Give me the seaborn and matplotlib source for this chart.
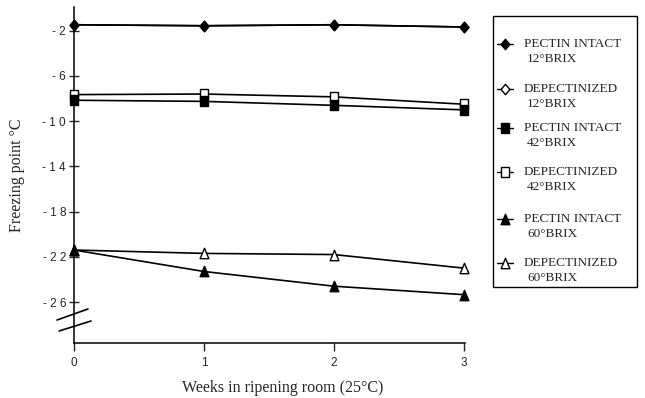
import numpy as np
import pandas as pd
import matplotlib
matplotlib.use("Agg")
import matplotlib.pyplot as plt
from matplotlib.lines import Line2D
from matplotlib.patches import Rectangle
from matplotlib.path import Path
import seaborn as sns

# Freezing point (°C) of the samples during storage in the ripening room
weeks = [0, 1, 2, 3]
pectin_intact_12 = [-1.47, -1.56, -1.47, -1.67]
depectinized_12 = [-1.47, -1.56, -1.47, -1.67]
pectin_intact_42 = [-8.15, -8.25, -8.6, -9.0]
depectinized_42 = [-7.65, -7.6, -7.85, -8.5]
pectin_intact_60 = [-21.4, -23.3, -24.6, -25.35]
depectinized_60 = [-21.4, -21.7, -21.8, -23.0]

series_names = [
    ("PECTIN INTACT", "12°BRIX"),
    ("DEPECTINIZED", "12°BRIX"),
    ("PECTIN INTACT", "42°BRIX"),
    ("DEPECTINIZED", "42°BRIX"),
    ("PECTIN INTACT", "60°BRIX"),
    ("DEPECTINIZED", "60°BRIX"),
]
series_values = [pectin_intact_12, depectinized_12, pectin_intact_42,
                 depectinized_42, pectin_intact_60, depectinized_60]

y_ticks = [-2, -6, -10, -14, -18, -22, -26]
y_tick_labels = ["- 2", "- 6", "- 1 0", "- 1 4", "- 1 8", "- 2 2", "- 2 6"]
x_tick_labels = ["0", "1", "2", "3"]

# slightly tall marker shapes
diamond = Path([(0, 0.5), (0.42, 0), (0, -0.5), (-0.42, 0), (0, 0.5)],
               [Path.MOVETO, Path.LINETO, Path.LINETO, Path.LINETO, Path.CLOSEPOLY])
rect = Path([(-0.36, -0.5), (0.36, -0.5), (0.36, 0.5), (-0.36, 0.5), (-0.36, -0.5)],
            [Path.MOVETO, Path.LINETO, Path.LINETO, Path.LINETO, Path.CLOSEPOLY])
tri = Path([(-0.42, -0.5), (0.42, -0.5), (0, 0.5), (-0.42, -0.5)],
           [Path.MOVETO, Path.LINETO, Path.LINETO, Path.CLOSEPOLY])

# filled markers are drawn on top of the open ones
styles = [
    dict(marker=diamond, mfc="black", ms=7.5, z=4),
    dict(marker=diamond, mfc="white", ms=7.5, z=3),
    dict(marker=rect, mfc="black", ms=7.5, z=4),
    dict(marker=rect, mfc="white", ms=7.5, z=3),
    dict(marker=tri, mfc="black", ms=7.5, z=4),
    dict(marker=tri, mfc="white", ms=7.5, z=3),
]

sns.set_style("ticks")
plt.rcParams["font.family"] = ["Liberation Sans", "DejaVu Sans"]

W, H = 645, 398
fig = plt.figure(figsize=(W / 100, H / 100), dpi=100)
ax_l, ax_r, ax_t, ax_b = 74, 465, 7, 342.7
ax = fig.add_axes([ax_l / W, 1 - ax_b / H, (ax_r - ax_l) / W, (ax_b - ax_t) / H])

for (n1, n2), vals, st in zip(series_names, series_values, styles):
    df = pd.DataFrame({"week": weeks, "fp": vals})
    sns.lineplot(data=df, x="week", y="fp", ax=ax, color="black", lw=1.2,
                 marker=st["marker"], markersize=st["ms"],
                 markerfacecolor=st["mfc"], markeredgecolor="black",
                 markeredgewidth=1.0, zorder=st["z"], clip_on=False,
                 label=f"{n1} {n2}", legend=False)

ax.set_xlim(0, 3.01)
ax.set_ylim(-29.6, 0.1)
ax.set_xticks(weeks)
ax.set_xticklabels(x_tick_labels, fontsize=8.5)
ax.set_yticks(y_ticks)
ax.set_yticklabels(y_tick_labels, fontsize=8.5)
ax.tick_params(axis="y", direction="inout", length=7.5, width=1.0, pad=2)
ax.tick_params(axis="x", direction="out", length=6, width=1.0, pad=4)
for s in ["top", "right"]:
    ax.spines[s].set_visible(False)
for s in ["left", "bottom"]:
    ax.spines[s].set_linewidth(1.1)
    ax.spines[s].set_color("black")

serif = ["Liberation Serif", "DejaVu Serif"]
ax.set_xlabel("Weeks in ripening room (25°C)", fontsize=11.5, family=serif)
ax.set_ylabel("Freezing point °C", fontsize=11.5, family=serif)
ax.xaxis.set_label_coords(0.535, -0.11)
ax.yaxis.set_label_coords(-0.125, 0.5)

# axis break marks on the y axis
for (x0, y0), (x1, y1) in [((-0.0435, 0.0676), (0.0358, 0.1004)),
                           ((-0.038, 0.0349), (0.0435, 0.0646))]:
    ax.plot([x0, x1], [y0, y1], transform=ax.transAxes, color="black",
            lw=1.2, clip_on=False)

# legend box with two-line labels, marker aligned with the first line
box_x0, box_x1, box_y0, box_y1 = 493, 637, 16, 287
fig.patches.append(Rectangle((box_x0 / W, 1 - box_y1 / H),
                             (box_x1 - box_x0) / W, (box_y1 - box_y0) / H,
                             transform=fig.transFigure, fill=False,
                             edgecolor="black", lw=1.0))
row_y = [44, 89, 128, 172, 219, 263]
for (n1, n2), st, ry in zip(series_names, styles, row_y):
    fig.add_artist(Line2D([497 / W, 513 / W], [1 - ry / H, 1 - ry / H],
                          transform=fig.transFigure, color="black", lw=1.0))
    fig.add_artist(Line2D([505 / W], [1 - ry / H], transform=fig.transFigure,
                          marker=st["marker"], markersize=7.5,
                          markerfacecolor=st["mfc"], markeredgecolor="black",
                          markeredgewidth=1.0, linestyle="none"))
    fig.text(524 / W, 1 - ry / H, n1, fontsize=9.5, family=serif,
             ha="left", va="center")
    fig.text(527 / W, 1 - (ry + 15) / H, n2, fontsize=9.5, family=serif,
             ha="left", va="center")

fig.savefig("out.png", dpi=100, facecolor="white")
